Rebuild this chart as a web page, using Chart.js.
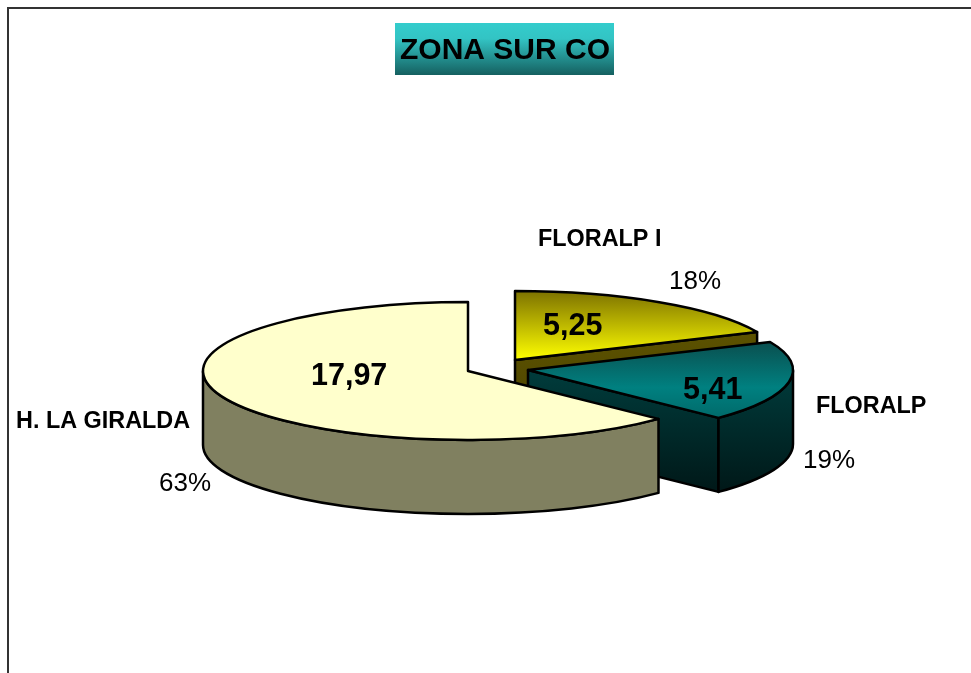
<!DOCTYPE html>
<html>
<head>
<meta charset="utf-8">
<title>ZONA SUR CO</title>
<script src="https://cdn.jsdelivr.net/npm/chart.js@4/dist/chart.umd.min.js"></script>
<style>
    html, body { margin: 0; padding: 0; background: #fff; overflow: hidden; }
    canvas { display: block; }
</style>
</head>
<body>
<canvas id="pieChart" width="971" height="673"></canvas>
<script>
const chartTitle = 'ZONA SUR CO';
const categories = ['FLORALP I', 'FLORALP', 'H. LA GIRALDA'];
const values = [5.25, 5.41, 17.97];

// look of the fake 3d pie
const squash = 0.26;
const depth = 74;
const explode = [[47, -11], [60, -1], [0, 0]];
const topColors = [
    [[0, '#7d7200'], [1, '#ffff00']],
    [[0, '#0a4f4f'], [0.6, '#008080'], [1, '#006a6a']],
    [[0, '#ffffcc'], [1, '#ffffcc']]
];
const sideColors = [
    [[0, '#5c5200'], [1, '#4a4200']],
    [[0, '#003c3c'], [1, '#001818']],
    [[0, '#808060'], [1, '#808060']]
];

// text places: [x, baseline y]
const namePos = [[538, 246], [816, 413], [16, 428]];
const percentPos = [[669, 289], [803, 468], [159, 491]];
const valuePos = [[543, 335], [683, 399], [311, 385]];

function verticalGradient(ctx, y0, y1, stops) {
    const g = ctx.createLinearGradient(0, y0, 0, y1);
    stops.forEach(s => g.addColorStop(s[0], s[1]));
    return g;
}

function paintPath(ctx, y0, y1, stops) {
    ctx.fillStyle = verticalGradient(ctx, y0, y1, stops);
    ctx.fill();
    ctx.strokeStyle = '#000';
    ctx.lineWidth = 2.5;
    ctx.lineJoin = 'round';
    ctx.stroke();
}

function drawSlice(ctx, arc, index) {
    const cx = arc.x + explode[index][0];
    const cy = arc.y + explode[index][1];
    const rx = arc.outerRadius;
    const ry = rx * squash;
    const start = arc.startAngle;
    const end = arc.endAngle;

    // cut faces that look at the viewer
    [start, end].forEach((a, i) => {
        const seen = i === 0 ? Math.cos(a) < -0.01 : Math.cos(a) > 0.01;
        if (!seen) return;
        const ex = cx + rx * Math.cos(a);
        const ey = cy + ry * Math.sin(a);
        ctx.beginPath();
        ctx.moveTo(cx, cy);
        ctx.lineTo(ex, ey);
        ctx.lineTo(ex, ey + depth);
        ctx.lineTo(cx, cy + depth);
        ctx.closePath();
        paintPath(ctx, Math.min(cy, ey), Math.max(cy, ey) + depth, sideColors[index]);
    });

    // outer wall, only the front half of the ellipse
    const a0 = Math.max(start, 0);
    const a1 = Math.min(end, Math.PI);
    if (a1 > a0) {
        ctx.beginPath();
        ctx.ellipse(cx, cy, rx, ry, 0, a0, a1);
        ctx.lineTo(cx + rx * Math.cos(a1), cy + ry * Math.sin(a1) + depth);
        ctx.ellipse(cx, cy + depth, rx, ry, 0, a1, a0, true);
        ctx.closePath();
        paintPath(ctx, cy + ry * Math.sin(a0), cy + ry * Math.sin(a1) + depth, sideColors[index]);
    }

    // top face, gradient runs over the height of the slice itself
    const rimYs = [cy, cy + ry * Math.sin(start), cy + ry * Math.sin(end)];
    if (start <= -Math.PI / 2 + 0.01) rimYs.push(cy - ry);
    ctx.beginPath();
    ctx.moveTo(cx, cy);
    ctx.ellipse(cx, cy, rx, ry, 0, start, end);
    ctx.closePath();
    paintPath(ctx, Math.min(...rimYs), Math.max(...rimYs), topColors[index]);
}

const pie3d = {
    id: 'pie3d',
    beforeDatasetsDraw(chart) {
        const ctx = chart.ctx;
        const arcs = chart.getDatasetMeta(0).data;
        const total = values.reduce((a, b) => a + b, 0);

        ctx.save();
        // frame, cut by the window on the right and bottom
        ctx.strokeStyle = '#333';
        ctx.lineWidth = 2;
        ctx.beginPath();
        ctx.moveTo(8, 673);
        ctx.lineTo(8, 8);
        ctx.lineTo(971, 8);
        ctx.stroke();

        // title box
        ctx.fillStyle = verticalGradient(ctx, 23, 75, [[0, '#33cccc'], [0.3, '#33c4c4'], [1, '#156060']]);
        ctx.fillRect(395, 23, 219, 52);
        ctx.fillStyle = '#000';
        ctx.font = 'bold 30px "Liberation Sans", Arial, sans-serif';
        ctx.textBaseline = 'alphabetic';
        ctx.fillText(chartTitle, 400, 59);

        arcs.forEach((arc, i) => drawSlice(ctx, arc, i));

        ctx.fillStyle = '#000';
        categories.forEach((name, i) => {
            ctx.font = 'bold 23.4px "Liberation Sans", Arial, sans-serif';
            ctx.fillText(name, namePos[i][0], namePos[i][1]);
            ctx.font = '26px "Liberation Sans", Arial, sans-serif';
            ctx.fillText(Math.round(values[i] / total * 100) + '%', percentPos[i][0], percentPos[i][1]);
            ctx.font = 'bold 30.5px "Liberation Sans", Arial, sans-serif';
            ctx.fillText(values[i].toFixed(2).replace('.', ','), valuePos[i][0], valuePos[i][1]);
        });
        ctx.restore();
        return false;
    }
};

new Chart(document.getElementById('pieChart').getContext('2d'), {
    type: 'pie',
    data: {
        labels: categories,
        datasets: [{
            data: values,
            backgroundColor: ['#ffff00', '#008080', '#ffffcc'],
            borderWidth: 0,
            hoverOffset: 0
        }]
    },
    options: {
        responsive: false,
        animation: false,
        layout: { padding: { top: 106, bottom: 37, left: 203, right: 238 } },
        plugins: {
            legend: { display: false },
            tooltip: { enabled: false }
        }
    },
    plugins: [pie3d]
});
</script>
</body>
</html>
